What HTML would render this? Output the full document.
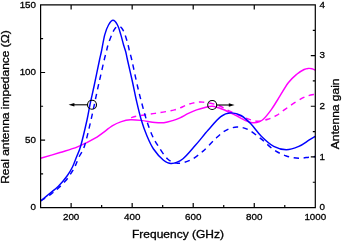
<!DOCTYPE html>
<html><head><meta charset="utf-8"><title>Chart</title>
<style>html,body{margin:0;padding:0;background:#fff;overflow:hidden}body{width:342px;height:241px;position:relative}</style></head>
<body>
<svg width="342" height="241" viewBox="0 0 342 241" style="position:absolute;left:0;top:0;will-change:transform">
<rect width="342" height="241" fill="#fff"/>
<g fill="none" stroke-linecap="butt" stroke-linejoin="round">
<path d="M40.60,158.30 C43.83,157.33 53.85,154.40 60.00,152.50 C66.15,150.60 71.65,149.28 77.50,146.90 C83.35,144.52 89.25,141.73 95.10,138.20 C100.95,134.67 108.22,128.47 112.60,125.70 C116.98,122.93 118.42,122.58 121.40,121.60 C124.38,120.62 127.23,120.00 130.50,119.80 C133.77,119.60 136.90,119.95 141.00,120.40 C145.10,120.85 151.28,122.12 155.10,122.50 C158.92,122.88 160.98,123.02 163.90,122.70 C166.82,122.38 169.92,121.42 172.60,120.60 C175.28,119.78 177.37,119.00 180.00,117.80 C182.63,116.60 185.63,114.72 188.40,113.40 C191.17,112.08 193.83,110.88 196.60,109.90 C199.37,108.92 202.35,108.12 205.00,107.50 C207.65,106.88 209.58,105.92 212.50,106.20 C215.42,106.48 218.88,107.80 222.50,109.20 C226.12,110.60 230.45,112.75 234.20,114.60 C237.95,116.45 242.37,119.03 245.00,120.30 C247.63,121.57 248.53,121.78 250.00,122.20 C251.47,122.62 252.30,122.87 253.80,122.80 C255.30,122.73 257.37,122.43 259.00,121.80 C260.63,121.17 261.55,121.03 263.60,119.00 C265.65,116.97 268.98,112.77 271.30,109.60 C273.62,106.43 274.67,104.47 277.50,100.00 C280.33,95.53 285.03,87.13 288.30,82.80 C291.57,78.47 294.47,76.22 297.10,74.00 C299.73,71.78 302.20,70.43 304.10,69.50 C306.00,68.57 307.18,68.52 308.50,68.40 C309.82,68.28 310.87,68.50 312.00,68.80 C313.13,69.10 314.75,69.97 315.30,70.20" stroke="#ff00ff" stroke-width="1.45"/>
<path d="M131.10,117.60 C132.17,117.33 133.50,116.70 137.50,116.00 C141.50,115.30 148.95,114.42 155.10,113.40 C161.25,112.38 169.25,111.25 174.40,109.90 C179.55,108.55 182.97,106.43 186.00,105.30 C189.03,104.17 189.83,103.63 192.60,103.10 C195.37,102.57 198.42,101.77 202.60,102.10 C206.78,102.43 213.08,103.55 217.70,105.10 C222.32,106.65 226.12,109.45 230.30,111.40 C234.48,113.35 239.52,115.43 242.80,116.80 C246.08,118.17 247.47,118.87 250.00,119.60 C252.53,120.33 255.03,121.25 258.00,121.20 C260.97,121.15 264.70,120.27 267.80,119.30 C270.90,118.33 273.67,117.10 276.60,115.40 C279.53,113.70 282.18,111.37 285.40,109.10 C288.62,106.83 292.47,103.90 295.90,101.80 C299.33,99.70 302.78,97.77 306.00,96.50 C309.22,95.23 313.67,94.58 315.20,94.20" stroke="#ff00ff" stroke-width="1.45" stroke-dasharray="5.4 4.6"/>
<path d="M40.60,201.00 C41.85,199.97 45.10,197.30 48.10,194.80 C51.10,192.30 55.38,189.22 58.60,186.00 C61.82,182.78 65.07,178.70 67.40,175.50 C69.73,172.30 71.08,169.88 72.60,166.80 C74.12,163.72 75.15,160.47 76.50,157.00 C77.85,153.53 78.95,152.17 80.70,146.00 C82.45,139.83 85.45,126.92 87.00,120.00 C88.55,113.08 88.78,110.33 90.00,104.50 C91.22,98.67 92.72,92.42 94.30,85.00 C95.88,77.58 98.33,65.50 99.50,60.00 C100.67,54.50 100.42,56.23 101.30,52.00 C102.18,47.77 103.60,39.10 104.80,34.60 C106.00,30.10 107.13,27.38 108.50,25.00 C109.87,22.62 111.50,20.30 113.00,20.30 C114.50,20.30 116.20,22.62 117.50,25.00 C118.80,27.38 119.78,31.27 120.80,34.60 C121.82,37.93 122.77,42.10 123.60,45.00 C124.43,47.90 125.15,49.50 125.80,52.00 C126.45,54.50 126.38,55.00 127.50,60.00 C128.62,65.00 131.03,75.33 132.50,82.00 C133.97,88.67 134.83,93.67 136.30,100.00 C137.77,106.33 139.52,114.00 141.30,120.00 C143.08,126.00 144.97,131.17 147.00,136.00 C149.03,140.83 150.75,144.97 153.50,149.00 C156.25,153.03 160.52,157.78 163.50,160.20 C166.48,162.62 168.20,163.70 171.40,163.50 C174.60,163.30 178.67,162.07 182.70,159.00 C186.73,155.93 191.35,149.93 195.60,145.10 C199.85,140.27 204.00,134.75 208.20,130.00 C212.40,125.25 217.00,119.45 220.80,116.60 C224.60,113.75 227.63,113.08 231.00,112.90 C234.37,112.72 237.70,113.68 241.00,115.50 C244.30,117.32 247.42,120.35 250.80,123.80 C254.18,127.25 257.48,132.43 261.30,136.20 C265.12,139.97 269.53,144.15 273.70,146.40 C277.87,148.65 282.12,149.70 286.30,149.70 C290.48,149.70 295.03,147.98 298.80,146.40 C302.57,144.82 306.17,141.88 308.90,140.20 C311.63,138.52 314.15,136.95 315.20,136.30" stroke="#0000ff" stroke-width="1.45"/>
<path d="M40.60,201.00 C42.28,199.88 47.85,196.35 50.70,194.30 C53.55,192.25 55.22,190.95 57.70,188.70 C60.18,186.45 63.25,183.58 65.60,180.80 C67.95,178.02 70.18,174.48 71.80,172.00 C73.42,169.52 74.10,168.40 75.30,165.90 C76.50,163.40 77.47,160.32 79.00,157.00 C80.53,153.68 82.50,152.17 84.50,146.00 C86.50,139.83 88.85,129.33 91.00,120.00 C93.15,110.67 95.90,96.95 97.40,90.00 C98.90,83.05 98.87,83.30 100.00,78.30 C101.13,73.30 103.12,64.55 104.20,60.00 C105.28,55.45 105.87,53.50 106.50,51.00 C107.13,48.50 107.12,47.73 108.00,45.00 C108.88,42.27 110.63,37.35 111.80,34.60 C112.97,31.85 113.88,29.88 115.00,28.50 C116.12,27.12 117.33,26.30 118.50,26.30 C119.67,26.30 120.92,27.12 122.00,28.50 C123.08,29.88 123.98,31.85 125.00,34.60 C126.02,37.35 127.33,42.10 128.10,45.00 C128.87,47.90 128.98,49.50 129.60,52.00 C130.22,54.50 130.45,54.17 131.80,60.00 C133.15,65.83 136.00,79.67 137.70,87.00 C139.40,94.33 140.53,98.50 142.00,104.00 C143.47,109.50 144.83,114.83 146.50,120.00 C148.17,125.17 150.15,130.82 152.00,135.00 C153.85,139.18 155.00,141.10 157.60,145.10 C160.20,149.10 164.25,155.98 167.60,159.00 C170.95,162.02 173.92,163.00 177.70,163.20 C181.48,163.40 186.12,162.17 190.30,160.20 C194.48,158.23 198.62,154.97 202.80,151.40 C206.98,147.83 211.62,142.27 215.40,138.80 C219.18,135.33 221.90,132.57 225.50,130.60 C229.10,128.63 233.22,127.15 237.00,127.00 C240.78,126.85 244.18,127.72 248.20,129.70 C252.22,131.68 256.85,135.57 261.10,138.90 C265.35,142.23 269.50,146.85 273.70,149.70 C277.90,152.55 282.12,154.58 286.30,156.00 C290.48,157.42 295.03,158.00 298.80,158.20 C302.57,158.40 306.17,157.48 308.90,157.20 C311.63,156.92 314.15,156.62 315.20,156.50" stroke="#0000ff" stroke-width="1.45" stroke-dasharray="5.4 4.6" stroke-dashoffset="0"/>
</g>
<path d="M40.60,4.95 H315.30 V207.60 H40.60 Z M71.12,207.60 v-4.50 M71.12,4.95 v4.50 M132.17,207.60 v-4.50 M132.17,4.95 v4.50 M193.21,207.60 v-4.50 M193.21,4.95 v4.50 M254.26,207.60 v-4.50 M254.26,4.95 v4.50 M101.64,207.60 v-2.50 M162.69,207.60 v-2.50 M223.73,207.60 v-2.50 M284.78,207.60 v-2.50 M40.60,140.05 h4.50 M40.60,72.50 h4.50 M40.60,173.82 h2.50 M40.60,106.27 h2.50 M40.60,38.72 h2.50 M315.30,156.94 h-4.50 M315.30,106.27 h-4.50 M315.30,55.61 h-4.50 M315.30,182.27 h-2.50 M315.30,131.61 h-2.50 M315.30,80.94 h-2.50 M315.30,30.28 h-2.50" fill="none" stroke="#000" stroke-width="1.2"/>
<g stroke="#000" stroke-width="1.1" fill="none">
<circle cx="92" cy="104.8" r="4.5"/>
<path d="M87.5,104.8 H73"/>
<circle cx="212.2" cy="105" r="4.5"/>
<path d="M216.7,105 H230"/>
</g>
<path d="M68.6,104.8 l5.8,-1.8 v3.6 z" fill="#000"/>
<path d="M234.6,105 l-5.8,-1.8 v3.6 z" fill="#000"/>
<g font-family="'Liberation Sans', Arial, sans-serif" fill="#000" stroke="#000" stroke-width="0.3">
<g font-size="9.8px" text-anchor="middle">
<text x="71.12" y="220">200</text>
<text x="132.17" y="220">400</text>
<text x="193.21" y="220">600</text>
<text x="254.26" y="220">800</text>
<text x="315.30" y="220">1000</text>
</g>
<g font-size="9.8px" text-anchor="end">
<text x="36" y="210.40">0</text>
<text x="36" y="142.85">50</text>
<text x="36" y="75.30">100</text>
<text x="36" y="7.75">150</text>
</g>
<g font-size="9.8px" text-anchor="start">
<text x="319.4" y="210.40">0</text>
<text x="319.4" y="159.74">1</text>
<text x="319.4" y="109.07">2</text>
<text x="319.4" y="58.41">3</text>
<text x="319.4" y="7.75">4</text>
</g>
<text transform="translate(178,238) scale(1.143,1)" font-size="10.5px" text-anchor="middle">Frequency (GHz)</text>
<text transform="translate(9.3,107) rotate(-90) scale(1.143,1)" font-size="10.5px" text-anchor="middle">Real antenna impedance (Ω)</text>
<text transform="translate(338.7,113.8) rotate(-90) scale(1.143,1)" font-size="10.5px" text-anchor="middle">Antenna gain</text>
</g>
</svg>
</body></html>
